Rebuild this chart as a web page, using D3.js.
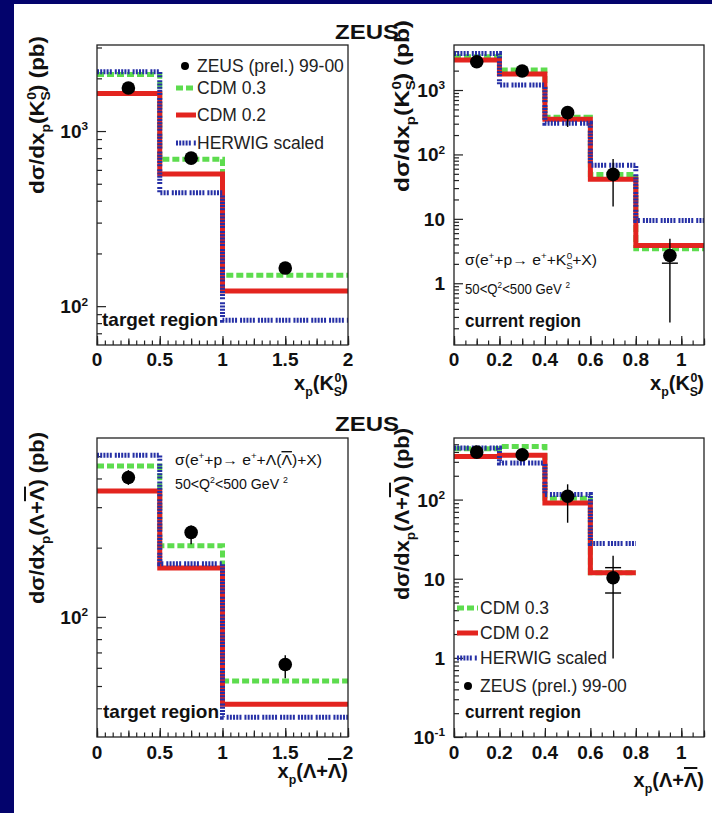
<!DOCTYPE html>
<html><head><meta charset="utf-8">
<script src="https://cdn.jsdelivr.net/npm/d3@7"></script>
<style>
html,body{margin:0;padding:0;background:#03036c;}
svg{display:block;}
</style></head>
<body>
<svg id="c" width="712" height="813"></svg>
<script>
// ---- K0s, target region ----
const kTargetEdges  = [0, 0.5, 1, 2];
const kTargetX      = [0.25, 0.75, 1.5];
const kTargetData   = [1760, 700, 165];
const kTargetLo     = [1690, 670, 158];
const kTargetHi     = [1830, 730, 172];
const kTargetTicks  = [[], [], []];
const kTargetCdm03  = [2100, 690, 150];
const kTargetCdm02  = [1640, 568, 122];
const kTargetHerwig = [2180, 444, 83];

// ---- K0s, current region ----
const kCurrentEdges  = [0, 0.2, 0.4, 0.6, 0.8, 1.1];
const kCurrentX      = [0.1, 0.3, 0.5, 0.7, 0.95];
const kCurrentData   = [2750, 1970, 445, 49, 2.7];
const kCurrentLo     = [2550, 1830, 267, 15.5, 0.245];
const kCurrentHi     = [2950, 2120, 545, 85, 4.9];
const kCurrentTicks  = [[], [], [], [], [2.05]];
const kCurrentCdm03  = [3280, 2040, 378, 49, 3.43];
const kCurrentCdm02  = [2920, 1770, 352, 41, 3.85];
const kCurrentHerwig = [3700, 1200, 305, 68, 9.4];

// ---- Lambda, target region ----
const lTargetEdges  = [0, 0.5, 1, 2];
const lTargetX      = [0.25, 0.75, 1.5];
const lTargetData   = [404, 233, 62];
const lTargetLo     = [375, 207, 54];
const lTargetHi     = [435, 250, 68];
const lTargetTicks  = [[], [], []];
const lTargetCdm03  = [453, 204, 52.6];
const lTargetCdm02  = [353, 163, 41.7];
const lTargetHerwig = [505, 170, 36.6];

// ---- Lambda, current region ----
const lCurrentEdges  = [0, 0.2, 0.4, 0.6, 0.8];
const lCurrentX      = [0.1, 0.3, 0.5, 0.7];
const lCurrentData   = [398, 369, 110, 10.3];
const lCurrentLo     = [375, 345, 51, 0.98];
const lCurrentHi     = [420, 395, 156, 19.5];
const lCurrentTicks  = [[], [], [], [13.8, 6.6]];
const lCurrentCdm03  = [440, 470, 104, 11.9];
const lCurrentCdm02  = [351, 362, 90.7, 11.9];
const lCurrentHerwig = [448, 290, 116, 27.9];

// ---- axis tick labels ----
const xTargetTicks   = [0, 0.5, 1, 1.5, 2];
const xTargetLabels  = ["0", "0.5", "1", "1.5", "2"];
const xCurrentTicks  = [0, 0.2, 0.4, 0.6, 0.8, 1];
const xCurrentLabels = ["0", "0.2", "0.4", "0.6", "0.8", "1"];
const yKTargetTicks   = [1000, 100];
const yKTargetLabels  = [["10", "3"], ["10", "2"]];
const yKCurrentTicks  = [1000, 100, 10, 1];
const yKCurrentLabels = [["10", "3"], ["10", "2"], ["10", ""], ["1", ""]];
const yLTargetTicks   = [100];
const yLTargetLabels  = [["10", "2"]];
const yLCurrentTicks  = [100, 10, 1, 0.1];
const yLCurrentLabels = [["10", "2"], ["10", ""], ["1", ""], ["10", "-1"]];

const legendNames = ["ZEUS (prel.) 99-00", "CDM 0.3", "CDM 0.2", "HERWIG scaled"];

// ---- styles ----
const FONT = "'Liberation Sans', Arial, Helvetica, sans-serif";
const COL = {cdm03: "#5ddc4e", cdm02: "#e3241f", herwig: "#2630a6"};
const DASH = {cdm03: "7,3", cdm02: null, herwig: "2,1.2,2,1.2,2,1.2,2,1.2,2,3"};

const svg = d3.select("#c");
svg.append("rect").attr("x", 14).attr("y", 4).attr("width", 712 - 14).attr("height", 813 - 4).attr("fill", "#ffffff");

// rich text: segments [text, kind, back, overline] with kind "sub"/"sup"
function rich(g, x, y, segs, o) {
  const t = g.append("text").attr("x", x).attr("y", y)
    .attr("font-family", o.family || FONT).attr("font-size", o.size)
    .attr("font-weight", o.weight || "normal").attr("fill", o.fill || "#111")
    .attr("text-anchor", o.anchor || "start");
  if (o.rotate) t.attr("transform", `rotate(-90,${x},${y})`);
  let shift = 0;
  segs.forEach(s => {
    const kind = s[1];
    const size = kind ? o.size * 0.62 : o.size;
    const target = kind === "sub" ? o.size * 0.3 : kind === "sup" ? -o.size * 0.4 : 0;
    const ts = t.append("tspan").attr("font-size", size).attr("dy", target - shift).text(s[0]);
    if (s[2]) ts.attr("dx", -s[2] * size);
    if (s[3]) ts.style("text-decoration", "overline");
    shift = target;
  });
  if (o.len) t.attr("textLength", o.len).attr("lengthAdjust", "spacingAndGlyphs");
  return t;
}

function stepLine(x, y, edges, vals) {
  const pts = vals.map((v, i) => [edges[i], v]);
  pts.push([edges[edges.length - 1], vals[vals.length - 1]]);
  return d3.line().x(d => x(d[0])).y(d => y(d[1])).curve(d3.curveStepAfter)(pts);
}

function range(a, b, step) {
  const out = [];
  for (let v = a; v <= b + 1e-9; v += step) out.push(+v.toFixed(6));
  return out;
}

function panel(p) {
  const g = svg.append("g");
  const x = d3.scaleLinear().domain(p.xDom).range([p.x0, p.x1]);
  const y = d3.scaleLog().domain(p.yDom).range([p.y1, p.y0]);

  // x ticks (inward)
  const xAxisG = g.append("g").attr("transform", `translate(0,${p.y1})`);
  [[p.xMinor, -4.5], [p.xMid, -6.5], [p.xTicks, -9]].forEach(([vals, len]) => {
    xAxisG.append("g").call(d3.axisBottom(x).tickValues(vals).tickSize(len).tickFormat(""))
      .call(a => a.select(".domain").remove());
  });
  // y ticks (inward)
  const yMinor = [];
  const lo = Math.floor(Math.log10(p.yDom[0])), hi = Math.ceil(Math.log10(p.yDom[1]));
  for (let e = lo; e <= hi; e++) for (let m = 2; m <= 9; m++) {
    const v = m * Math.pow(10, e);
    if (v > p.yDom[0] && v < p.yDom[1]) yMinor.push(v);
  }
  const yAxisG = g.append("g").attr("transform", `translate(${p.x0},0)`);
  [[yMinor, -5], [p.yTicks, -9]].forEach(([vals, len]) => {
    yAxisG.append("g").call(d3.axisLeft(y).tickValues(vals).tickSize(len).tickFormat(""))
      .call(a => a.select(".domain").remove());
  });
  g.selectAll(".tick line").attr("stroke", "#222").attr("stroke-width", 1.2);

  // tick labels
  p.xTicks.forEach((v, i) => {
    g.append("text").attr("x", x(v)).attr("y", p.y1 + p.xLabDy).attr("text-anchor", "middle")
      .attr("font-family", FONT).attr("font-weight", "bold").attr("font-size", 19).attr("fill", "#111")
      .text(p.xLabels[i]);
  });
  p.yTicks.forEach((v, i) => {
    const lab = p.yLabels[i];
    const segs = [[lab[0]]];
    if (lab[1]) segs.push([lab[1], "sup"]);
    rich(g, p.x0 - 9, y(v) + 7, segs, {size: 19, weight: "bold", anchor: "end"});
  });

  // model histograms
  [["cdm03", p.cdm03], ["cdm02", p.cdm02], ["herwig", p.herwig]].forEach(([k, vals]) => {
    const path = g.append("path").attr("d", stepLine(x, y, p.edges, vals))
      .attr("fill", "none").attr("stroke", COL[k]).attr("stroke-width", 5);
    if (DASH[k]) path.attr("stroke-dasharray", DASH[k]);
  });

  // data with errors
  p.dataX.forEach((xv, i) => {
    g.append("line").attr("x1", x(xv)).attr("x2", x(xv)).attr("y1", y(p.hi[i])).attr("y2", y(p.lo[i]))
      .attr("stroke", "#000").attr("stroke-width", 1.4);
    p.ticks[i].forEach(tv => {
      g.append("line").attr("x1", x(xv) - 8).attr("x2", x(xv) + 8).attr("y1", y(tv)).attr("y2", y(tv))
        .attr("stroke", "#000").attr("stroke-width", 1.4);
    });
    g.append("circle").attr("cx", x(xv)).attr("cy", y(p.data[i])).attr("r", 6.8).attr("fill", "#000");
  });

  // frame
  g.append("rect").attr("x", p.x0).attr("y", p.y0).attr("width", p.x1 - p.x0).attr("height", p.y1 - p.y0)
    .attr("fill", "none").attr("stroke", "#222").attr("stroke-width", 1.3);

  // axis titles
  rich(g, p.yTitleX, p.yTitleY, p.yTitle, {size: 20, weight: "bold", anchor: "end", rotate: true, len: p.yTitleLen});
  rich(g, p.x1, p.xTitleY, p.xTitle, {size: 20, weight: "bold", anchor: "end"});

  // region label
  rich(g, p.regX, p.regY, [[p.region]], {size: 19, weight: "bold", len: 116});

  // annotations
  (p.notes || []).forEach(n => rich(g, n.x, n.y, n.segs, {size: 14, len: n.len, fill: "#111"}));

  // legend
  if (p.legend) {
    const L = p.legend;
    L.order.forEach((k, i) => {
      const ly = L.ys[i];
      if (k === "data") {
        g.append("circle").attr("cx", L.mx).attr("cy", ly).attr("r", 4).attr("fill", "#000");
      } else {
        const ln = g.append("line").attr("x1", L.lx0).attr("x2", L.lx1).attr("y1", ly).attr("y2", ly)
          .attr("stroke", COL[k]).attr("stroke-width", 5);
        if (DASH[k]) ln.attr("stroke-dasharray", DASH[k]);
      }
      const name = {data: legendNames[0], cdm03: legendNames[1], cdm02: legendNames[2], herwig: legendNames[3]}[k];
      g.append("text").attr("x", L.tx).attr("y", ly + 6).attr("font-family", FONT).attr("font-size", 17.5)
        .attr("fill", "#222").text(name);
    });
  }
}

const kTitleY = [["dσ/dx"], ["p", "sub"], ["(K"], ["S", "sub"], ["0", "sup", 0.62], [")  (pb)"]];
const lTitleY = [["dσ/dx"], ["p", "sub"], ["(Λ+"], ["Λ", null, 0, true], [")  (pb)"]];
const kTitleX = [["x"], ["p", "sub"], ["(K"], ["S", "sub"], ["0", "sup", 0.62], [")"]];
const lTitleX = [["x"], ["p", "sub"], ["(Λ+"], ["Λ", null, 0, true], [")"]];

const xMinorT = range(0, 2, 0.0625), xMidT = range(0, 2, 0.25);
const xMinorC = range(0, 1.1, 0.05), xMidC = range(0, 1.1, 0.1);

panel({x0: 97, x1: 348, y0: 45, y1: 345, xDom: [0, 2], yDom: [60, 3100],
  xTicks: xTargetTicks, xLabels: xTargetLabels, xMinor: xMinorT, xMid: xMidT, xLabDy: 21,
  yTicks: yKTargetTicks, yLabels: yKTargetLabels,
  edges: kTargetEdges, cdm03: kTargetCdm03, cdm02: kTargetCdm02, herwig: kTargetHerwig,
  dataX: kTargetX, data: kTargetData, lo: kTargetLo, hi: kTargetHi, ticks: kTargetTicks,
  yTitle: kTitleY, yTitleX: 44, yTitleY: 36, yTitleLen: 158, xTitle: kTitleX, xTitleY: 390,
  region: "target region", regX: 102, regY: 326,
  legend: {order: ["data", "cdm03", "cdm02", "herwig"], ys: [66, 88, 115, 143], mx: 185, lx0: 176, lx1: 196, tx: 197}
});
panel({x0: 454, x1: 704, y0: 45, y1: 345, xDom: [0, 1.1], yDom: [0.11, 5000],
  xTicks: xCurrentTicks, xLabels: xCurrentLabels, xMinor: xMinorC, xMid: xMidC, xLabDy: 21,
  yTicks: yKCurrentTicks, yLabels: yKCurrentLabels,
  edges: kCurrentEdges, cdm03: kCurrentCdm03, cdm02: kCurrentCdm02, herwig: kCurrentHerwig,
  dataX: kCurrentX, data: kCurrentData, lo: kCurrentLo, hi: kCurrentHi, ticks: kCurrentTicks,
  yTitle: kTitleY, yTitleX: 409, yTitleY: 20, yTitleLen: 172, xTitle: kTitleX, xTitleY: 390,
  region: "current region", regX: 465, regY: 327,
  notes: [
    {x: 465, y: 265, len: 132, segs: [["σ(e"], ["+", "sup"], ["+p→ e"], ["+", "sup"], ["+K"], ["S", "sub"], ["0", "sup", 0.62], ["+X)"]]},
    {x: 465, y: 294, len: 105, segs: [["50<Q"], ["2", "sup"], ["<500 GeV "], ["2", "sup"]]}
  ]
});
panel({x0: 97, x1: 348, y0: 438, y1: 737, xDom: [0, 2], yDom: [30, 600],
  xTicks: xTargetTicks, xLabels: xTargetLabels, xMinor: xMinorT, xMid: xMidT, xLabDy: 22,
  yTicks: yLTargetTicks, yLabels: yLTargetLabels,
  edges: lTargetEdges, cdm03: lTargetCdm03, cdm02: lTargetCdm02, herwig: lTargetHerwig,
  dataX: lTargetX, data: lTargetData, lo: lTargetLo, hi: lTargetHi, ticks: lTargetTicks,
  yTitle: lTitleY, yTitleX: 44, yTitleY: 432, yTitleLen: 172, xTitle: lTitleX, xTitleY: 778,
  region: "target region", regX: 103, regY: 718,
  notes: [
    {x: 175, y: 465, len: 147, segs: [["σ(e"], ["+", "sup"], ["+p→ e"], ["+", "sup"], ["+Λ("], ["Λ", null, 0, true], [")+X)"]]},
    {x: 175, y: 489, len: 113, segs: [["50<Q"], ["2", "sup"], ["<500 GeV "], ["2", "sup"]]}
  ]
});
panel({x0: 454, x1: 704, y0: 438, y1: 737, xDom: [0, 1.1], yDom: [0.1, 600],
  xTicks: xCurrentTicks, xLabels: xCurrentLabels, xMinor: xMinorC, xMid: xMidC, xLabDy: 22,
  yTicks: yLCurrentTicks, yLabels: yLCurrentLabels,
  edges: lCurrentEdges, cdm03: lCurrentCdm03, cdm02: lCurrentCdm02, herwig: lCurrentHerwig,
  dataX: lCurrentX, data: lCurrentData, lo: lCurrentLo, hi: lCurrentHi, ticks: lCurrentTicks,
  yTitle: lTitleY, yTitleX: 409, yTitleY: 428, yTitleLen: 172, xTitle: lTitleX, xTitleY: 787,
  region: "current region", regX: 465, regY: 718,
  legend: {order: ["cdm03", "cdm02", "herwig", "data"], ys: [608, 633, 658, 686], mx: 468, lx0: 457, lx1: 478, tx: 480}
});

// experiment labels
[39, 431].forEach(yy => {
  svg.append("text").attr("x", 335).attr("y", yy).attr("font-family", FONT).attr("font-weight", "bold")
    .attr("font-size", 20).attr("fill", "#111").attr("textLength", 64).attr("lengthAdjust", "spacingAndGlyphs")
    .text("ZEUS");
});
</script>
</body></html>
